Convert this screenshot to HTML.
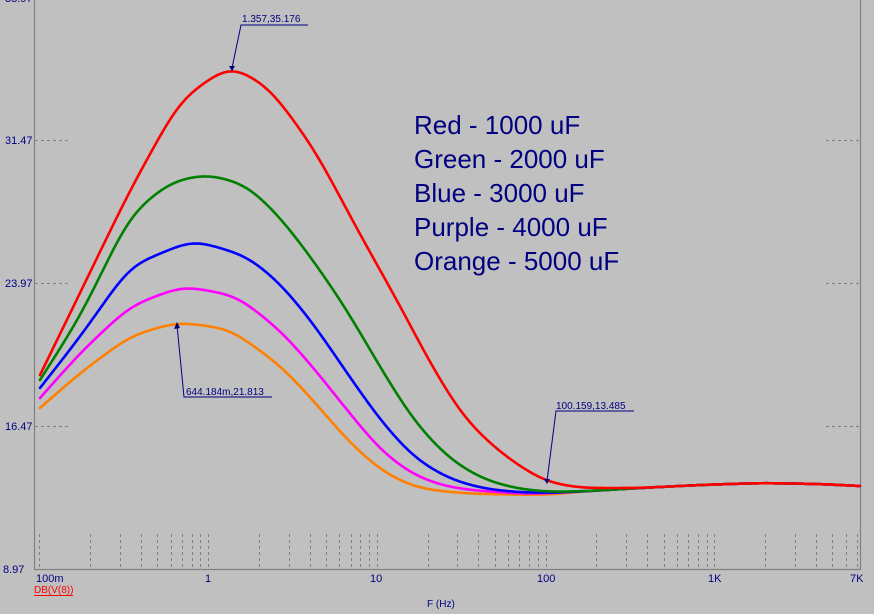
<!DOCTYPE html>
<html><head><style>
body{margin:0;background:#c0c0c0;}
svg{display:block;font-family:"Liberation Sans",sans-serif;}
</style></head><body>
<svg id="s" width="874" height="614" viewBox="0 0 874 614" xmlns="http://www.w3.org/2000/svg">
<rect width="874" height="614" fill="#c0c0c0"/>
<g stroke="#808080" stroke-width="1.2" fill="none">
<line x1="34.5" y1="0" x2="34.5" y2="569"/>
<line x1="34" y1="569.5" x2="861" y2="569.5"/>
<line x1="860.5" y1="0" x2="860.5" y2="569"/>
</g>
<g id="grid" stroke="#808080" stroke-width="1" stroke-dasharray="3,3" fill="none"></g>
<g fill="#000080" font-size="11">
<text x="5" y="2">38.97</text>
<text x="5" y="144">31.47</text>
<text x="5" y="287">23.97</text>
<text x="5" y="430">16.47</text>
<text x="3" y="573">8.97</text>
<text x="36" y="582">100m</text>
<text x="205" y="582">1</text>
<text x="370" y="582">10</text>
<text x="537" y="582">100</text>
<text x="708" y="582">1K</text>
<text x="850" y="582">7K</text>
<text x="427" y="607" font-size="10">F (Hz)</text>
</g>
<text x="34" y="593" fill="#ff0000" font-size="10">DB(V(8))</text>
<line x1="34" y1="595.5" x2="73" y2="595.5" stroke="#ff0000" stroke-width="1"/>
<g id="curves" fill="none" stroke-width="2.6" stroke-linejoin="round" stroke-linecap="round"></g>
<g fill="#000080" font-size="26">
<text x="414" y="134">Red - 1000 uF</text>
<text x="414" y="168">Green - 2000 uF</text>
<text x="414" y="202">Blue - 3000 uF</text>
<text x="414" y="236">Purple - 4000 uF</text>
<text x="414" y="270">Orange - 5000 uF</text>
</g>
<g fill="#000080" font-size="10" stroke="none">
<text x="242" y="22">1.357,35.176</text>
<text x="186" y="395">644.184m,21.813</text>
<text x="556" y="409">100.159,13.485</text>
</g>
<g stroke="#000080" stroke-width="1" fill="none">
<polyline points="308,25 241,25 232,68"/>
<polyline points="272,397 184,397 177,325"/>
<polyline points="634,411 556,411 547,481"/>
</g>
<g fill="#000080">
<polygon points="229,66 235,66 232,71"/>
<polygon points="174,329 180,328 177,322"/>
<polygon points="544,479 550,479 547,484"/>
</g>
</svg>
<script>
function X(f){return 208+168.8*Math.log10(f);}
var g=document.getElementById('grid'),h="";
[0.1,1,10,100,1000].forEach(function(d){for(var k=1;k<10;k++){var f=d*k;if(f>7000)break;if(f<0.1)continue;var x=Math.round(X(f))+0.5;h+='<line x1="'+x+'" y1="534" x2="'+x+'" y2="568"/>';}});
h+='<line x1="857.5" y1="534" x2="857.5" y2="568"/>';
[140,283,426].forEach(function(y){h+='<line x1="35" y1="'+(y+.5)+'" x2="68" y2="'+(y+.5)+'"/><line x1="826" y1="'+(y+.5)+'" x2="859" y2="'+(y+.5)+'"/>';});
g.innerHTML=h;
var tail=[[640,488],[700,485],[760,483],[820,484],[860,486]];
var PAD=50;
function smoothPath(p){
  var x0=p[0][0],x1=p[p.length-1][0],ys=[];
  function lin(x){
    if(x<=p[0][0]){var s=(p[1][1]-p[0][1])/(p[1][0]-p[0][0]);return p[0][1]+s*(x-p[0][0]);}
    if(x>=p[p.length-1][0]){var n=p.length-1,s2=(p[n][1]-p[n-1][1])/(p[n][0]-p[n-1][0]);return p[n][1]+s2*(x-p[n][0]);}
    for(var i=0;i<p.length-1;i++){if(x<=p[i+1][0]){var t=(x-p[i][0])/(p[i+1][0]-p[i][0]);return p[i][1]+t*(p[i+1][1]-p[i][1]);}}
  }
  for(var x=x0-PAD;x<=x1+PAD;x++)ys.push(lin(x));
  for(var it=0;it<3;it++){
    var out=ys.slice(),w=12;
    for(var i=w;i<ys.length-w;i++){var s=0;for(var j=-w;j<=w;j++)s+=ys[i+j];out[i]=s/(2*w+1);}
    ys=out;
  }
  var d="";
  for(var x=x0;x<=x1;x++){d+=(x==x0?"M":"L")+x+","+ys[x-x0+PAD].toFixed(2)+" ";}
  return d;
}
var C=[
["#ff8000",[[40,408],[80,373],[130,336],[177,322],[230,329],[280,365],[313,400],[347,440],[380,470],[413,487],[447,492],[480,494],[545,495],[600,490]]],
["#ff00ff",[[40,398],[80,353],[130,306],[183,286],[237,296],[280,330],[313,367],[347,410],[380,450],[413,475],[447,487],[480,491],[530,494],[590,491]]],
["#0000ff",[[40,388],[80,337],[130,266],[193,240],[247,256],[280,283],[313,323],[347,373],[380,420],[413,457],[447,478],[480,488],[513,492],[547,493],[590,491]]],
["#008000",[[40,380],[80,317],[130,215],[170,182],[207,174],[247,185],[280,217],[313,260],[347,310],[380,367],[413,420],[447,457],[480,478],[513,488],[547,492],[590,491]]],
["#ff0000",[[40,375],[80,293],[130,190],[180,100],[230,65],[270,88],[315,150],[363,240],[397,300],[430,363],[463,417],[497,450],[530,473],[547,482],[580,488]]]
];
var cg=document.getElementById('curves'),s="";
C.forEach(function(c){s+='<path stroke="'+c[0]+'" d="'+smoothPath(c[1].concat(tail))+'"/>';});
cg.innerHTML=s;
</script>
</body></html>
